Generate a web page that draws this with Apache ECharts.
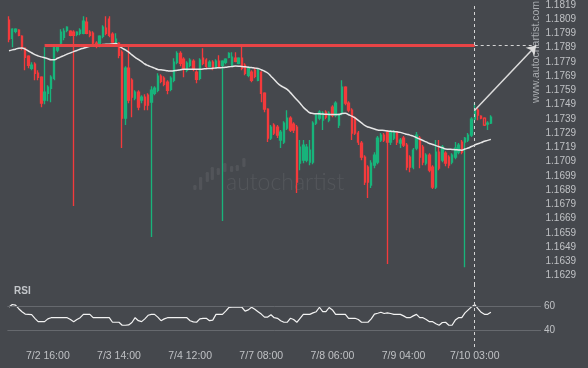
<!DOCTYPE html>
<html><head><meta charset="utf-8">
<script src="https://cdn.jsdelivr.net/npm/echarts/dist/echarts.min.js"></script>
<style>html,body{margin:0;padding:0;background:#45484d;}#c{width:588px;height:368px;}</style>
</head><body><div id="c"></div><script>
// ---- data ----
const xTickLabels = ['7/2 16:00','7/3 14:00','7/4 12:00','7/7 08:00','7/8 06:00','7/9 04:00','7/10 03:00'];
const priceTicks = [1.1629,1.1639,1.1649,1.1659,1.1669,1.1679,1.1689,1.1699,1.1709,1.1719,1.1729,1.1739,1.1749,1.1759,1.1769,1.1779,1.1789,1.1799,1.1809,1.1819];
const rsiTicks = [40, 60];
const levelPrice = 1.17906;      // resistance level
const breakoutTime = '7/10 03:00';
const arrowStartPrice = 1.17452;
const arrowEndIndex = 163;
const levelStartIndex = 11;
const hollowIdx = [145,147,149];
// [open, close, low, high]
const ohlc = [
[1.18083,1.17950,1.17929,1.18111],[1.17957,1.18020,1.17893,1.18027],[1.18006,1.18020,1.17992,1.18027],[1.18013,1.17978,1.17971,1.18020],[1.17971,1.17894,1.17873,1.17978],
[1.17887,1.17823,1.17732,1.17894],[1.17830,1.17767,1.17746,1.17837],[1.17746,1.17767,1.17732,1.17788],[1.17774,1.17711,1.17662,1.17788],[1.17711,1.17683,1.17662,1.17732],
[1.17683,1.17501,1.17473,1.17690],[1.17522,1.17578,1.17494,1.17894],[1.17571,1.17613,1.17515,1.17627],[1.17606,1.17683,1.17508,1.17697],[1.17676,1.17901,1.17662,1.17908],
[1.17873,1.17894,1.17859,1.17908],[1.17922,1.17999,1.17908,1.18020],[1.17964,1.18006,1.17943,1.18027],[1.18013,1.18034,1.17999,1.18041],[1.18006,1.17978,1.17971,1.18013],
[1.17999,1.17978,1.16779,1.18013],[1.17985,1.17999,1.17971,1.18006],[1.17992,1.18013,1.17978,1.18027],[1.17992,1.18076,1.17985,1.18111],[1.18069,1.17992,1.17985,1.18104],
[1.17999,1.17978,1.17964,1.18013],[1.17992,1.17922,1.17915,1.18006],[1.17922,1.17901,1.17887,1.17936],[1.17915,1.17971,1.17894,1.17978],[1.17971,1.18034,1.17957,1.18048],
[1.18027,1.17992,1.17978,1.18111],[1.18090,1.17978,1.17964,1.18111],[1.17985,1.17929,1.17915,1.17999],[1.17929,1.17950,1.17908,1.17992],[1.17922,1.17837,1.17816,1.17929],
[1.17859,1.17396,1.17186,1.17873],[1.17396,1.17746,1.17347,1.17760],[1.17746,1.17522,1.17501,1.17908],[1.17662,1.17543,1.17403,1.17676],[1.17536,1.17578,1.17522,1.17592],
[1.17578,1.17473,1.17452,1.17592],[1.17522,1.17543,1.17501,1.17557],[1.17543,1.17487,1.17452,1.17564],[1.17557,1.17487,1.17452,1.17571],[1.17508,1.17592,1.16562,1.17620],
[1.17571,1.17606,1.17557,1.17620],[1.17592,1.17690,1.17578,1.17711],[1.17690,1.17655,1.17641,1.17704],[1.17676,1.17634,1.17620,1.17690],[1.17648,1.17592,1.17564,1.17662],
[1.17599,1.17676,1.17585,1.17690],[1.17662,1.17788,1.17648,1.17816],[1.17788,1.17851,1.17774,1.17865],[1.17851,1.17781,1.17760,1.17865],[1.17809,1.17746,1.17683,1.17823],
[1.17732,1.17781,1.17718,1.17795],[1.17767,1.17802,1.17753,1.17816],[1.17795,1.17739,1.17725,1.17809],[1.17718,1.17669,1.17641,1.17732],[1.17676,1.17802,1.17662,1.17816],
[1.17816,1.17781,1.17767,1.17887],[1.17802,1.17760,1.17746,1.17816],[1.17760,1.17788,1.17753,1.17802],[1.17788,1.17753,1.17732,1.17802],[1.17753,1.17795,1.17746,1.17809],
[1.17795,1.17760,1.17753,1.17837],[1.17767,1.17795,1.16674,1.17802],[1.17788,1.17809,1.17774,1.17816],[1.17823,1.17851,1.17816,1.17858],[1.17767,1.17823,1.17760,1.17858],
[1.17816,1.17795,1.17788,1.17858],[1.17781,1.17816,1.17774,1.17823],[1.17816,1.17746,1.17732,1.17908],[1.17767,1.17711,1.17697,1.17781],[1.17697,1.17746,1.17683,1.17760],
[1.17718,1.17662,1.17648,1.17732],[1.17732,1.17690,1.17676,1.17753],[1.17662,1.17732,1.17655,1.17746],[1.17718,1.17571,1.17508,1.17725],[1.17571,1.17459,1.17438,1.17578],
[1.17459,1.17256,1.17228,1.17466],[1.17256,1.17333,1.17242,1.17347],[1.17347,1.17291,1.17277,1.17361],[1.17333,1.17277,1.17256,1.17347],[1.17242,1.17298,1.17186,1.17312],
[1.17228,1.17361,1.17214,1.17375],[1.17326,1.17396,1.17312,1.17452],[1.17396,1.17312,1.17298,1.17410],[1.17354,1.17312,1.17291,1.17368],[1.17333,1.16947,1.16870,1.17347],
[1.17080,1.17193,1.17031,1.17242],[1.17101,1.17207,1.17080,1.17242],[1.17101,1.17193,1.17087,1.17214],[1.17087,1.17171,1.17066,1.17242],[1.17087,1.17361,1.17073,1.17375],
[1.17361,1.17417,1.17347,1.17431],[1.17396,1.17438,1.17382,1.17452],[1.17382,1.17431,1.17312,1.17445],[1.17438,1.17403,1.17389,1.17452],[1.17382,1.17431,1.17368,1.17445],
[1.17473,1.17417,1.17403,1.17487],[1.17417,1.17501,1.17403,1.17515],[1.17347,1.17417,1.17326,1.17431],[1.17431,1.17613,1.17417,1.17662],[1.17613,1.17501,1.17487,1.17620],
[1.17501,1.17452,1.17438,1.17515],[1.17452,1.17291,1.17242,1.17466],[1.17396,1.17291,1.17277,1.17410],[1.17291,1.17228,1.17207,1.17305],[1.17221,1.17122,1.17101,1.17235],
[1.17122,1.16947,1.16926,1.17136],[1.17052,1.16947,1.16835,1.17066],[1.16926,1.17080,1.16905,1.17101],[1.17066,1.17136,1.17045,1.17157],[1.17087,1.17256,1.17073,1.17270],
[1.17242,1.17277,1.17228,1.17291],[1.17277,1.17242,1.17228,1.17291],[1.17298,1.17228,1.16372,1.17312],[1.17228,1.17298,1.17207,1.17312],[1.17256,1.17298,1.17242,1.17312],
[1.17298,1.17228,1.17207,1.17305],[1.17221,1.17242,1.17186,1.17256],[1.17256,1.17207,1.17193,1.17270],[1.17207,1.17052,1.17031,1.17221],[1.17122,1.17052,1.17017,1.17136],
[1.17052,1.17171,1.17038,1.17186],[1.17186,1.17277,1.17171,1.17298],[1.17256,1.17122,1.17045,1.17270],[1.17193,1.17087,1.17066,1.17207],[1.17080,1.17136,1.17066,1.17150],
[1.17136,1.17031,1.17017,1.17150],[1.17052,1.16912,1.16898,1.17066],[1.16912,1.17157,1.16898,1.17242],[1.17157,1.17045,1.17031,1.17242],[1.17101,1.17193,1.17087,1.17207],
[1.17150,1.17080,1.17059,1.17164],[1.17122,1.17066,1.17045,1.17136],[1.17087,1.17136,1.17073,1.17150],[1.17122,1.17186,1.17108,1.17228],[1.17157,1.17207,1.17143,1.17221],
[1.17228,1.17157,1.17143,1.17242],[1.17228,1.17256,1.16349,1.17263],[1.17242,1.17277,1.17228,1.17291],[1.17277,1.17389,1.17263,1.17403],[1.17389,1.17452,1.17375,1.17501],
[1.17452,1.17417,1.17382,1.17466],[1.17410,1.17396,1.17389,1.17417],[1.17396,1.17347,1.17340,1.17403],[1.17354,1.17361,1.17312,1.17375],[1.17361,1.17403,1.17354,1.17417]
];
const maValues = [
1.17869,1.17875,1.17880,1.17887,1.17888,1.17880,1.17867,1.17855,1.17842,1.17833,
1.17826,1.17820,1.17813,1.17806,1.17806,1.17816,1.17826,1.17835,1.17845,1.17854,
1.17863,1.17871,1.17880,1.17887,1.17894,1.17901,1.17903,1.17906,1.17910,1.17912,
1.17914,1.17915,1.17917,1.17919,1.17901,1.17887,1.17875,1.17859,1.17840,1.17823,
1.17808,1.17793,1.17776,1.17765,1.17756,1.17747,1.17738,1.17735,1.17732,1.17728,
1.17726,1.17729,1.17732,1.17736,1.17739,1.17739,1.17739,1.17739,1.17739,1.17739,
1.17741,1.17743,1.17744,1.17746,1.17748,1.17750,1.17751,1.17753,1.17756,1.17759,
1.17762,1.17761,1.17758,1.17756,1.17753,1.17751,1.17747,1.17744,1.17736,1.17725,
1.17713,1.17690,1.17667,1.17643,1.17624,1.17611,1.17598,1.17575,1.17550,1.17525,
1.17501,1.17473,1.17452,1.17434,1.17429,1.17427,1.17426,1.17425,1.17423,1.17422,
1.17422,1.17422,1.17422,1.17429,1.17431,1.17420,1.17410,1.17397,1.17380,1.17363,
1.17345,1.17334,1.17327,1.17320,1.17313,1.17311,1.17309,1.17306,1.17304,1.17302,
1.17300,1.17296,1.17289,1.17283,1.17277,1.17270,1.17259,1.17249,1.17239,1.17229,
1.17218,1.17211,1.17203,1.17195,1.17188,1.17179,1.17178,1.17176,1.17174,1.17173,
1.17171,1.17179,1.17186,1.17197,1.17207,1.17216,1.17224,1.17234,1.17240,1.17247
];
const rsiValues = [
59.5,61.5,61,58,55.5,53.5,53.3,53,50,47.2,
47.2,47.2,49.5,50.5,50.5,50.5,50.5,50.5,50.5,49,
47.2,49,50.5,53.3,53.3,53.3,50.5,50.5,50.5,50.5,
50.5,50.5,46.7,46.7,46.7,44.2,44.2,44.5,46.5,50.5,
48,47.2,49.5,52.5,53.3,53.3,51,48,49.5,50.5,
50.5,50.5,50.5,50.5,50.5,50.5,48,47,46.7,49.5,
50,50,48,48.5,53.3,53.3,53.3,56,59,59.2,
59.2,59.2,59.2,56,57,59.2,57.5,55.5,53.5,51,
51,53,50.5,50,48,46.7,46.7,50,49,46.7,
50,53.3,53.3,53.3,54.5,55.5,59.2,55.5,55.5,59,
57,53.3,53.3,53.3,53.3,50,50,50,49,46.7,
46.7,46.7,49.5,53.5,54.2,55,54,54.5,54,53.3,
53.3,53.3,52,50.5,50.5,52,53.3,50.5,50.5,49,
47.2,47.2,45.5,44.2,46.5,46.7,44.2,44.2,48.5,50.5,
50.5,54.5,57,59.5,61.3,58,55,53.3,53.3,55
];
// hourly time categories (weekend and one rollover hour missing), plus empty slots on the right
function buildTimes(n){
  const out=[]; let t=Date.UTC(2025,6,2,4);
  while(out.length<n){
    const d=new Date(t), da=d.getUTCDate(), h=d.getUTCHours();
    const skip=(da===4&&h>=21)||da===5||(da===6&&h<19)||(da===9&&h===21);
    if(!skip) out.push((d.getUTCMonth()+1)+'/'+da+' '+String(h).padStart(2,'0')+':00');
    t+=3600000;
  }
  return out;
}
const categories = buildTimes(165);

// ---- chart ----
const GREEN='#18b47b', RED='#f43a3c', TXT='#bfc1c4';
const candleData = ohlc.map((v,i)=> hollowIdx.includes(i)
  ? {value:v, itemStyle:{color:'rgba(0,0,0,0)', color0:'rgba(0,0,0,0)'}} : v);
const chart = echarts.init(document.getElementById('c'), null, {renderer:'canvas'});
const wmBars = [[193.3,185,190],[199,177,190],[205.7,172,182],[210.7,167,180],[216.7,168,175],[223.3,163,172],[230,166,172],[235.7,165,171],[242.3,158,167]];
chart.setOption({
  backgroundColor:'#45484d',
  animation:false,
  textStyle:{fontFamily:'Liberation Sans, Arial, sans-serif'},
  title:{text:'RSI', left:14, top:286, padding:0, textStyle:{color:'#c3c6ca', fontSize:10, fontWeight:'bold'}},
  grid:[{left:7.4,right:47,top:4.7,height:280.3},{left:7.4,right:47,top:285,height:62}],
  xAxis:[
    {type:'category',gridIndex:0,data:categories,axisLine:{show:false},axisTick:{show:false},axisLabel:{show:false},splitLine:{show:false}},
    {type:'category',gridIndex:1,data:categories,axisLine:{show:false},axisTick:{show:false},splitLine:{show:false},
     axisLabel:{show:true,interval:(i,v)=>xTickLabels.includes(v),color:TXT,fontSize:10.5,margin:4}}
  ],
  yAxis:[
    {type:'value',gridIndex:0,position:'right',min:1.16225,max:1.1819,axisLine:{show:false},axisTick:{show:false},splitLine:{show:false},
     axisLabel:{customValues:priceTicks,formatter:v=>v.toFixed(4),color:TXT,fontSize:10,margin:4.5}},
    {type:'value',gridIndex:1,position:'right',min:26.08,max:77.75,axisLine:{show:false},axisTick:{show:false},splitLine:{show:false},
     axisLabel:{customValues:rsiTicks,color:TXT,fontSize:10,margin:3}}
  ],
  graphic:[
    {type:'group',silent:true,children:wmBars.map(b=>({type:'rect',shape:{x:b[0],y:b[1],width:3.2,height:b[2]-b[1],r:1.2},style:{fill:'rgba(255,255,255,0.07)'}}))},
    {type:'text',silent:true,x:226,y:171,style:{text:'autochartist',fill:'rgba(255,255,255,0.08)',font:'300 23px Lato, sans-serif'}},
    {type:'text',silent:true,x:536,y:52,rotation:Math.PI/2,style:{text:'www.autochartist.com',fill:'#a9acb0',font:'10.5px Liberation Sans, Arial, sans-serif',align:'center',verticalAlign:'middle'}}
  ],
  series:[
    {type:'candlestick',xAxisIndex:0,yAxisIndex:0,data:candleData,barWidth:1.9,
     itemStyle:{color:GREEN,color0:RED,borderColor:GREEN,borderColor0:RED,borderWidth:1.35},
     markLine:{silent:true,symbol:['none','none'],label:{show:false},animation:false,
       data:[
         [{coord:[levelStartIndex,levelPrice],lineStyle:{color:'#e84446',width:3,type:'solid'}},{coord:[breakoutTime,levelPrice]}],
         [{coord:[breakoutTime,levelPrice],lineStyle:{color:'#d4d4d4',width:1,type:[3,3]}},{coord:[arrowEndIndex,levelPrice]}],
         [{coord:[breakoutTime,arrowStartPrice],lineStyle:{color:'#dcdcdc',width:1.5,type:'solid'}},{coord:[arrowEndIndex,levelPrice],symbol:'arrow',symbolSize:9}],
         {xAxis:breakoutTime,lineStyle:{color:'#d4d4d4',width:1,type:[3,3]}}
       ]}},
    {type:'line',xAxisIndex:0,yAxisIndex:0,data:maValues,smooth:true,showSymbol:false,silent:true,
     lineStyle:{color:'#e6e6e6',width:1.5}},
    {type:'line',xAxisIndex:1,yAxisIndex:1,data:rsiValues,showSymbol:false,silent:true,
     lineStyle:{color:'#f2f2f2',width:1.2},
     markLine:{silent:true,symbol:['none','none'],label:{show:false},
       data:[
         {yAxis:60,lineStyle:{color:'#66696e',width:1,type:'solid'}},
         {yAxis:40,lineStyle:{color:'#66696e',width:1,type:'solid'}},
         {xAxis:breakoutTime,lineStyle:{color:'#d4d4d4',width:1,type:[3,3]}}
       ]}}
  ]
});
</script></body></html>
